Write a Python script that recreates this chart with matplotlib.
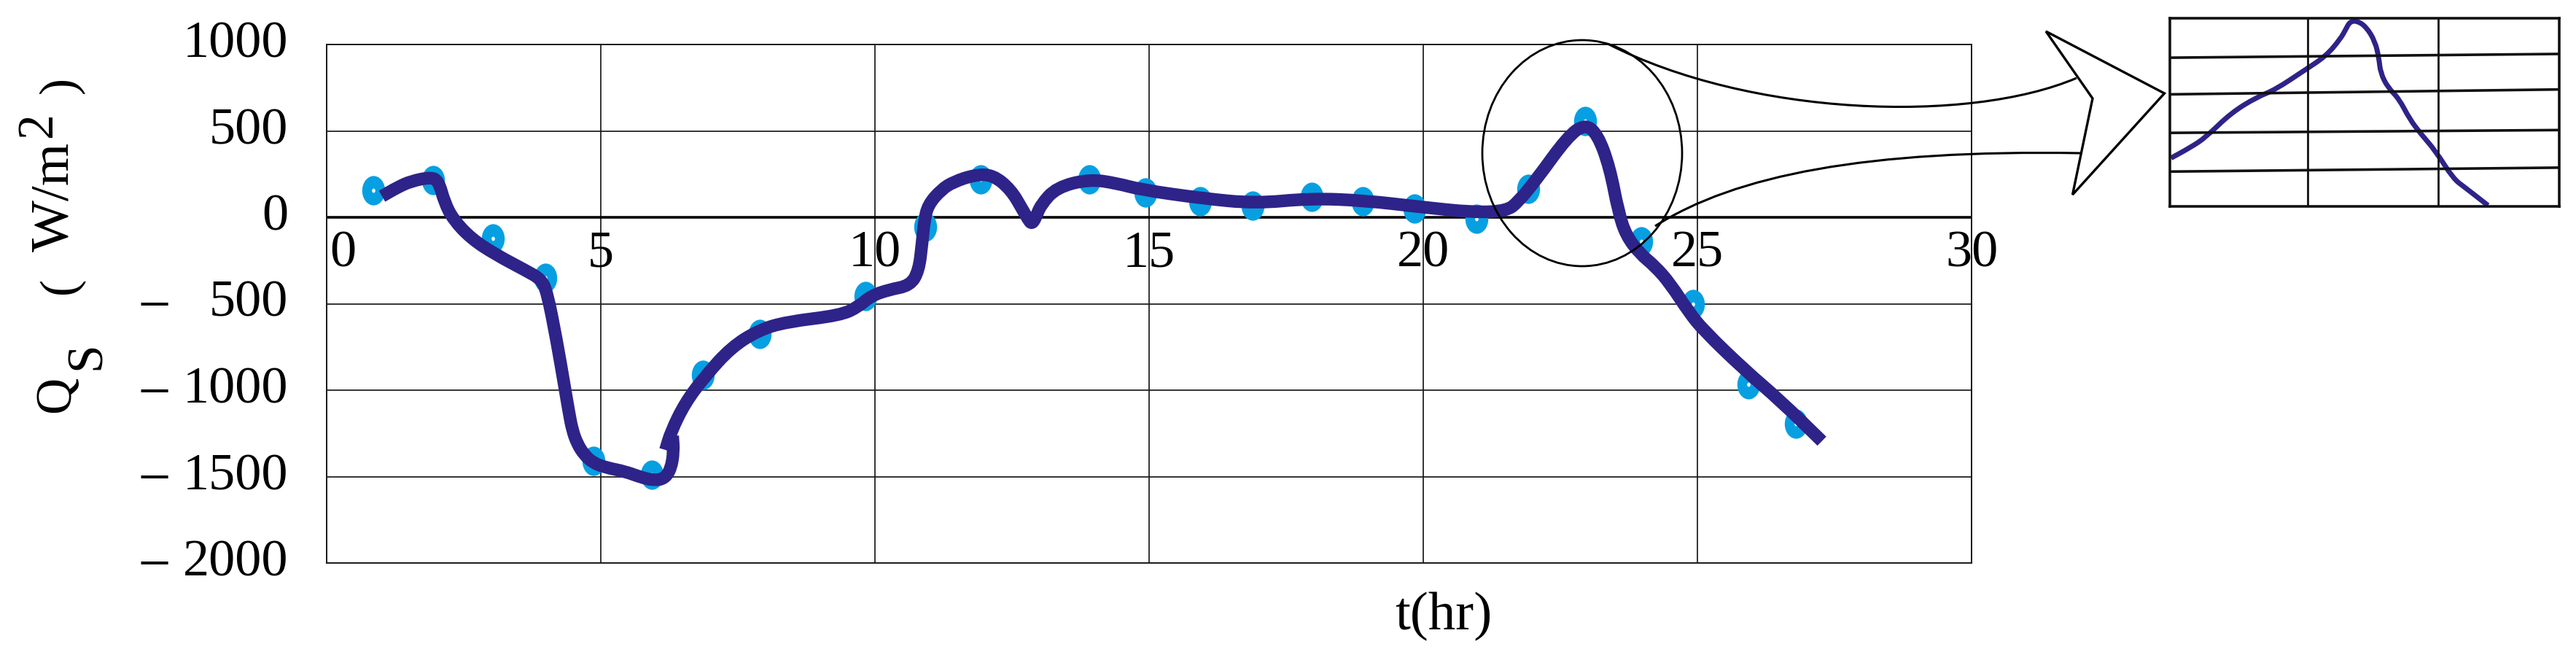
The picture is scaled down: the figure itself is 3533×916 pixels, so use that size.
import numpy as np
import matplotlib
matplotlib.use("Agg")
import matplotlib.pyplot as plt
from matplotlib.patches import Ellipse, PathPatch, Polygon
from matplotlib.path import Path
from matplotlib.transforms import offset_copy, Affine2D

# measured points (hour, W/m2)
dot_t = [0.85, 1.94, 3.03, 3.99, 4.87, 5.93, 6.86, 7.90, 9.83, 10.92, 11.93, 13.91, 14.94,
         15.93, 16.89, 17.97, 18.90, 19.84, 20.97, 21.91, 22.95, 23.98, 24.92, 25.93, 26.79]
dot_q = [156, 215, -124, -350, -1410, -1490, -911, -674, -456, -55, 220, 220, 143,
         91, 67, 118, 93, 50, -10, 165, 555, -140, -503, -966, -1196]

# hand drawn fit curve, nan splits the two strokes
line_t = [1.01, 1.30, 1.54, 1.89, 2.04, 2.15, 2.31, 2.64, 3.08, 3.64, 3.91, 4.02, 4.19, 4.35,
          4.42, 4.48, 4.57, 4.70, 4.86, 5.08, 5.44, 5.74, 5.97, 6.16, 6.28, 6.33, 6.31,
          np.nan,
          6.18, 6.28, 6.54, 6.90, 7.38, 7.88, 8.38, 9.37, 9.70, 9.92, 10.25, 10.64, 10.80,
          10.86, 10.90, 10.97, 11.21, 11.43, 11.82, 12.15, 12.48, 12.70, 12.80, 12.86, 12.93,
          13.02, 13.31, 13.91, 14.41, 14.85, 15.96, 16.94, 17.94, 18.94, 19.92, 20.92, 21.52,
          21.73, 22.07, 22.63, 22.95, 23.18, 23.40, 23.56, 23.70, 23.95, 24.23, 24.50, 24.85,
          25.11, 25.85, 26.51, 27.27]
line_q = [122, 175, 209, 232, 212, 86, -13, -124, -215, -309, -358, -432, -703, -999,
          -1130, -1230, -1310, -1375, -1420, -1447, -1470, -1505, -1522, -1512, -1455, -1354, -1265,
          np.nan,
          -1346, -1240, -1072, -920, -752, -653, -605, -567, -517, -456, -419, -395, -309,
          -150, -20, 73, 160, 205, 246, 246, 160, 40, -15, -38, -5,
          70, 173, 221, 197, 160, 110, 80, 110, 97, 61, 28, 37,
          89, 221, 466, 540, 480, 290, 30, -105, -210, -284, -382, -551,
          -653, -880, -1060, -1295]

# curve inside the zoom box (box fractions)
zoom_x = [0.003, 0.054, 0.092, 0.157, 0.223, 0.270, 0.345, 0.401, 0.438, 0.452, 0.462, 0.480,
          0.504, 0.527, 0.537, 0.541, 0.560, 0.588, 0.616, 0.644, 0.682, 0.728, 0.757, 0.817]
zoom_y = [0.256, 0.314, 0.366, 0.496, 0.580, 0.619, 0.722, 0.799, 0.890, 0.942, 0.981, 0.987,
          0.955, 0.877, 0.787, 0.709, 0.631, 0.573, 0.463, 0.386, 0.295, 0.146, 0.101, 0.004]
zoom_vlines = [0.354, 0.689]
zoom_hl_left = [0.790, 0.595, 0.390, 0.184]
zoom_hl_right = [0.810, 0.621, 0.405, 0.205]

x_ticks = [0, 5, 10, 15, 20, 25, 30]
y_ticks = [1000, 500, 0, -500, -1000, -1500, -2000]

navy = '#2e2388'
cyan = '#06a0e2'
serif = 'Liberation Serif'


def smooth_path(xs, ys):
    # quadratic curve through the midpoints, so the stroke has no hard corners
    verts, codes = [], []
    pts = np.column_stack([xs, ys])
    breaks = np.where(np.isnan(pts[:, 0]))[0]
    for seg in np.split(pts, breaks):
        seg = seg[~np.isnan(seg[:, 0])]
        if len(seg) < 2:
            continue
        mids = (seg[:-1] + seg[1:]) / 2
        verts += [seg[0], mids[0]]
        codes += [Path.MOVETO, Path.LINETO]
        for i in range(1, len(seg) - 1):
            verts += [seg[i], mids[i]]
            codes += [Path.CURVE3, Path.CURVE3]
        verts.append(seg[-1])
        codes.append(Path.LINETO)
    return Path(verts, codes)


W, H = 3533, 916
fig = plt.figure(figsize=(W / 100, H / 100), dpi=100)
fig.patch.set_facecolor('white')

ax = fig.add_axes([448 / W, 144 / H, 2256 / W, 711 / H])
ax.set_xlim(0, 30)
ax.set_ylim(-2000, 1000)
ax.set_xticks(x_ticks)
ax.set_yticks(y_ticks)
ax.tick_params(length=0, labelleft=False, labelbottom=False)
ax.grid(True, color='#1a1a1a', linewidth=1.25)
for s in ax.spines.values():
    s.set_linewidth(1.4)
    s.set_color('#1a1a1a')
ax.axhline(0, color='black', linewidth=2.6, zorder=2)

# markers: tall cyan ellipses with a small white centre
ell = Path.unit_circle().transformed(Affine2D().scale(0.78, 1.0))
ax.plot(dot_t, dot_q, linestyle='none', marker=ell, markersize=29,
        markerfacecolor=cyan, markeredgecolor='none', zorder=3)
ax.plot(dot_t, dot_q, linestyle='none', marker=ell, markersize=4.2,
        markerfacecolor='white', markeredgecolor='none', zorder=4)
ax.add_patch(PathPatch(smooth_path(line_t, line_q), fill=False, edgecolor=navy,
                       linewidth=12.5, capstyle='butt', joinstyle='round', zorder=5))

# tick labels
ytr = ax.get_yaxis_transform()
for v in y_ticks:
    ax.text(-0.0235, v, str(abs(v)), transform=ytr, ha='right', va='center',
            fontsize=52, family=serif)
    if v < 0:
        ax.text(-0.105, v, '\u2013', transform=ytr, ha='center', va='center',
                fontsize=52, family=serif)
xtr = offset_copy(ax.transData, fig=fig, y=-50, units='dots')
for i, v in enumerate(x_ticks):
    if i == 0:
        ax.text(v, 0, str(v), transform=offset_copy(xtr, fig=fig, x=4, units='dots'),
                ha='left', va='center', fontsize=52, family=serif, clip_on=False)
    else:
        ax.text(v, 0, str(v), transform=xtr, ha='center', va='center',
                fontsize=52, family=serif, clip_on=False)

# axis titles
fig.text(1980 / W, 1 - 845 / H, 't(hr)', ha='center', va='center', fontsize=54, family=serif)
ylab = [('Q', 78, 541, 50), ('S', 120, 488, 50), ('(', 84, 391, 50), ('W/m', 76, 270, 54),
        ('2', 53, 171, 50), (')', 84, 117, 50)]
for txt, px, py, fs in ylab:
    fig.text(px / W, 1 - py / H, txt, rotation=90, ha='center', va='center',
             fontsize=fs, family=serif)

# overlay in pixel coordinates for the zoom callout
ov = fig.add_axes([0, 0, 1, 1], zorder=10)
ov.set_xlim(0, W)
ov.set_ylim(H, 0)
ov.axis('off')
ov.patch.set_alpha(0)
ov.add_patch(Ellipse((2170, 210), 274, 310, fill=False, edgecolor='black', linewidth=2.0))
up = Path([(2205, 60), (2400, 160), (2700, 170), (2848, 107)],
          [Path.MOVETO, Path.CURVE4, Path.CURVE4, Path.CURVE4])
lo = Path([(2270, 310), (2380, 240), (2560, 205), (2853, 210)],
          [Path.MOVETO, Path.CURVE4, Path.CURVE4, Path.CURVE4])
ov.add_patch(PathPatch(up, fill=False, edgecolor='black', linewidth=2.2))
ov.add_patch(PathPatch(lo, fill=False, edgecolor='black', linewidth=2.2))
ov.add_patch(Polygon([(2806, 43), (2968.5, 128), (2842.5, 267), (2870, 135)], closed=True,
                     facecolor='white', edgecolor='black', linewidth=2.4, joinstyle='miter'))

ins = fig.add_axes([2976 / W, 1 - 282.7 / H, 534 / W, 257.7 / H], zorder=11)
ins.set_xlim(0, 1)
ins.set_ylim(0, 1)
ins.set_xticks([])
ins.set_yticks([])
for s in ins.spines.values():
    s.set_linewidth(2.6)
    s.set_color('#111111')
for xv in zoom_vlines:
    ins.plot([xv, xv], [0, 1], color='#111111', linewidth=2.0)
for yl, yr in zip(zoom_hl_left, zoom_hl_right):
    ins.plot([0, 1], [yl, yr], color='#111111', linewidth=2.6)
ins.add_patch(PathPatch(smooth_path(zoom_x, zoom_y), fill=False, edgecolor=navy,
                        linewidth=5.0, capstyle='butt', joinstyle='round', clip_on=False))

fig.savefig('out.png', dpi=100, facecolor='white')
